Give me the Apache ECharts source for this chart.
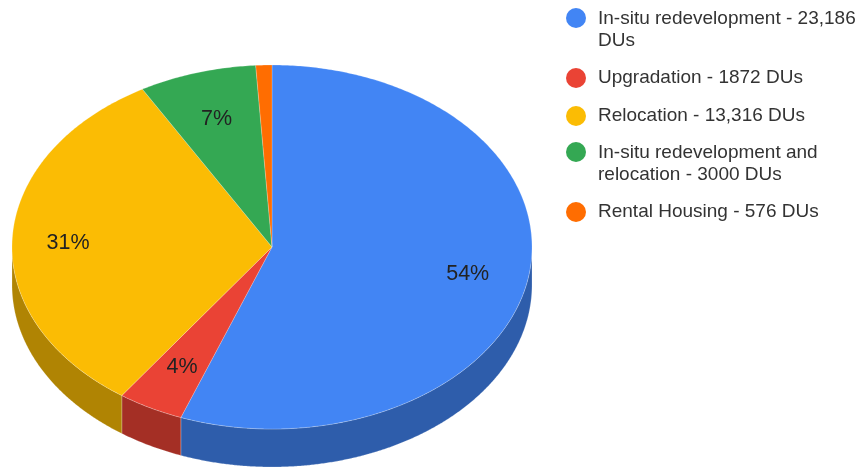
<!DOCTYPE html>
<html><head><meta charset="utf-8">
<style>html,body{margin:0;padding:0;background:#fff}#c{width:859px;height:468px}</style>
<script src="https://cdn.jsdelivr.net/npm/echarts@6/dist/echarts.min.js"></script>
</head><body><div id="c"></div>
<script>
const categories = ['In-situ redevelopment - 23,186\nDUs','Upgradation - 1872 DUs','Relocation - 13,316 DUs','In-situ redevelopment and\nrelocation - 3000 DUs','Rental Housing - 576 DUs'];
const sliceShares = [55.7, 4.1, 31.9, 7.3, 1.0];
const percentLabels = ['54%','4%','31%','7%',''];
const topColors = ['#4285f4','#ea4335','#fbbc04','#34a853','#ff6d01'];
const sideColors = ['#2e5dab','#a42f25','#b08403','#24763a','#b34c01'];
const legendTops = [3, 62, 100, 137, 196];
const labelFractions = [0.765, 0.74, 0.785, 0.74, 0.75];
const labelShiftY = [2, 1, 3, 1, 0];

const CX = 272, CY = 247, RX = 260, RY = 182, DEPTH = 38;
const total = sliceShares.reduce((a, b) => a + b, 0);
function pt(a, dy) { return [CX + RX * Math.sin(a), CY - RY * Math.cos(a) + (dy || 0)]; }
function renderSlice(idx) {
  return function () {
    const before = sliceShares.slice(0, idx).reduce((a, b) => a + b, 0);
    const a0 = before / total * 2 * Math.PI, a1 = (before + sliceShares[idx]) / total * 2 * Math.PI;
    const steps = Math.max(8, Math.ceil((a1 - a0) / 0.01));
    const top = [[CX, CY]];
    for (let i = 0; i <= steps; i++) top.push(pt(a0 + (a1 - a0) * i / steps));
    const children = [];
    const s0 = Math.max(a0, Math.PI / 2), s1 = Math.min(a1, Math.PI * 1.5);
    if (s1 > s0) {
      const upper = [], lower = [];
      for (let i = 0; i <= steps; i++) {
        const a = s0 + (s1 - s0) * i / steps;
        upper.push(pt(a)); lower.unshift(pt(a, DEPTH));
      }
      children.push({ type: 'polygon', shape: { points: upper.concat(lower) },
        style: { fill: sideColors[idx], stroke: 'rgba(255,255,255,0.35)', lineWidth: 0.6 } });
    }
    children.push({ type: 'polygon', shape: { points: top },
      style: { fill: topColors[idx], stroke: 'rgba(255,255,255,0.35)', lineWidth: 0.6 } });
    if (percentLabels[idx]) {
      const m = (a0 + a1) / 2, f = labelFractions[idx];
      children.push({ type: 'text', z2: 10, style: {
        text: percentLabels[idx], x: CX + RX * f * Math.sin(m), y: CY - RY * f * Math.cos(m) + labelShiftY[idx],
        align: 'center', verticalAlign: 'middle', fill: '#222', font: '21.5px "Liberation Sans"' } });
    }
    return { type: 'group', children };
  };
}
const twoLineIcon = 'path://M0 10a10 10 0 1 0 20 0a10 10 0 1 0 -20 0zM0 44L0 44M20 44L20 44';
const chart = echarts.init(document.getElementById('c'), null, { renderer: 'canvas' });
chart.setOption({
  animation: false,
  color: topColors,
  legend: categories.map((name, i) => {
    const two = name.includes('\n');
    return {
      left: 561, top: legendTops[i], orient: 'vertical', selectedMode: false,
      itemWidth: 20, itemHeight: two ? 44 : 20, itemGap: 0,
      data: [{ name, icon: two ? twoLineIcon : 'circle' }],
      textStyle: { fontFamily: 'Liberation Sans', fontSize: 19, color: '#333', lineHeight: 22, padding: [0, 0, 0, 7] }
    };
  }),
  series: categories.map((name, i) => ({
    type: 'custom', name, coordinateSystem: 'none', silent: true,
    itemStyle: { color: topColors[i] },
    data: [sliceShares[i]],
    renderItem: renderSlice(i)
  }))
});
</script></body></html>
